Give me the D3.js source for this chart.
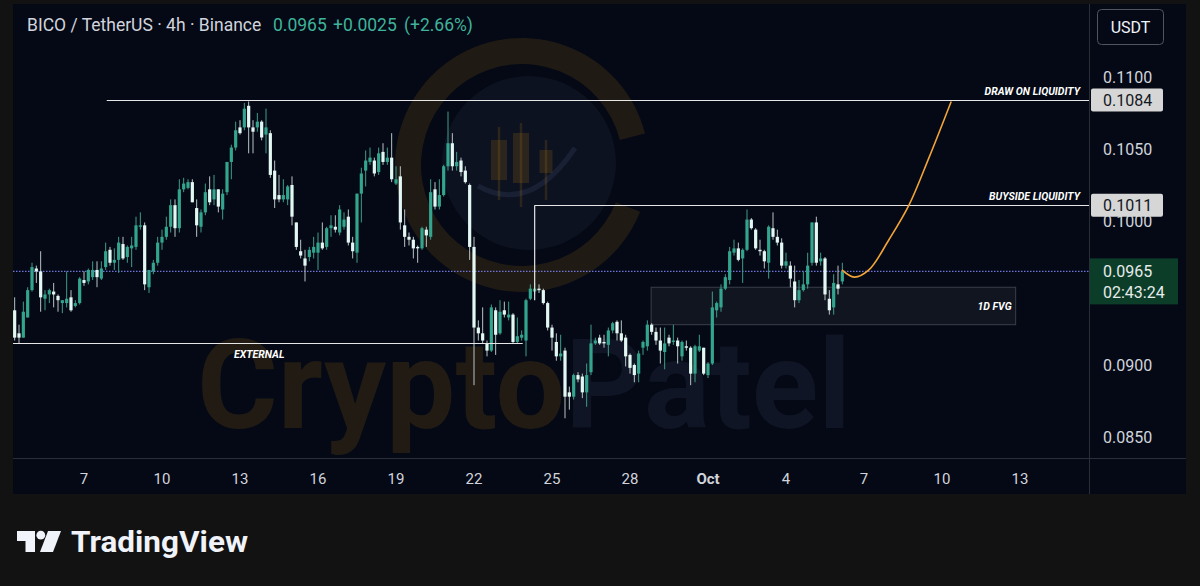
<!DOCTYPE html>
<html><head><meta charset="utf-8">
<script src="https://cdn.jsdelivr.net/npm/d3@7"></script>
<style>
html,body{margin:0;padding:0;background:#121212;}
svg{display:block;font-family:Roboto,"Noto Sans",sans-serif;}
</style></head><body>
<svg id="c" width="1200" height="586"></svg>
<script>
// ---------- DATA ----------
const firstCandle = "2024-09-04T08:00:00Z";   // 4h candles
const open = [
0.0938,0.0922,0.0919,0.0933,0.0952,0.0967,0.0965,0.0946,0.0949,0.0951,
0.0948,0.0943,0.0943,0.0947,0.0941,0.0943,0.0959,0.0958,0.0961,0.0966,
0.0960,0.0968,0.0980,0.0971,0.0973,0.0984,0.0975,0.0981,0.0982,0.0996,
0.0997,0.0954,0.0965,0.0971,0.0985,0.0989,0.0996,0.1011,0.0995,0.1022,
0.1023,0.1027,0.1009,0.0996,0.1006,0.1022,0.1015,0.1022,0.1008,0.1020,
0.1041,0.1051,0.1065,0.1065,0.1080,0.1065,0.1065,0.1069,0.1060,0.1061,
0.1035,0.1018,0.1015,0.1015,0.1025,0.0999,0.0979,0.0974,0.0975,0.0978,
0.0978,0.0985,0.0982,0.0995,0.0996,0.0992,0.0996,0.1003,0.0985,0.0978,
0.1019,0.1035,0.1041,0.1042,0.1034,0.1048,0.1041,0.1044,0.1026,0.1031,
0.0997,0.0989,0.0987,0.0982,0.0981,0.0994,0.0989,0.1022,0.1010,0.1018,
0.1038,0.1054,0.1038,0.1042,0.1035,0.1025,0.0982,0.0926,0.0922,0.0915,
0.0910,0.0938,0.0922,0.0938,0.0933,0.0935,0.0916,0.0919,0.0917,0.0946,
0.0951,0.0953,0.0952,0.0943,0.0926,0.0916,0.0906,0.0910,0.0881,0.0878,
0.0893,0.0892,0.0881,0.0895,0.0915,0.0919,0.0916,0.0914,0.0924,0.0930,
0.0922,0.0919,0.0907,0.0900,0.0894,0.0912,0.0913,0.0928,0.0923,0.0917,
0.0909,0.0919,0.0916,0.0917,0.0906,0.0913,0.0912,0.0894,0.0910,0.0912,
0.0893,0.0901,0.0938,0.0940,0.0953,0.0959,0.0978,0.0981,0.0974,0.0980,
0.1001,0.0994,0.0980,0.0979,0.0971,0.0995,0.0989,0.0985,0.0969,0.0969,
0.0958,0.0945,0.0952,0.0956,0.0971,0.0999,0.0972,0.0974,0.0946,0.0940,
0.0956,0.0958];
const high = [
0.0947,0.0928,0.0944,0.0954,0.0971,0.0969,0.0979,0.0952,0.0953,0.0957,
0.0949,0.0945,0.0965,0.0952,0.0945,0.0961,0.0965,0.0967,0.0972,0.0972,
0.0972,0.0985,0.0982,0.0981,0.0989,0.0989,0.0983,0.0989,0.1003,0.1006,
0.0999,0.0966,0.0973,0.0989,0.0994,0.1003,0.1015,0.1015,0.1029,0.1030,
0.1029,0.1029,0.1015,0.1008,0.1026,0.1031,0.1032,0.1022,0.1022,0.1041,
0.1053,0.1069,0.1070,0.1082,0.1083,0.1070,0.1075,0.1070,0.1078,0.1063,
0.1042,0.1032,0.1029,0.1025,0.1031,0.0999,0.0987,0.0980,0.0982,0.0989,
0.0992,0.0999,0.0996,0.1004,0.1004,0.1011,0.1006,0.1008,0.0989,0.1019,
0.1037,0.1049,0.1051,0.1044,0.1051,0.1054,0.1051,0.1061,0.1038,0.1038,
0.1008,0.0992,0.0989,0.0983,0.0996,0.0996,0.1029,0.1027,0.1029,0.1039,
0.1076,0.1061,0.1048,0.1044,0.1038,0.1026,0.0989,0.0931,0.0940,0.0917,
0.0942,0.0940,0.0945,0.0944,0.0944,0.0936,0.0933,0.0924,0.0946,0.0956,
0.0957,0.0956,0.0953,0.0944,0.0928,0.0922,0.0921,0.0912,0.0885,0.0894,
0.0895,0.0894,0.0901,0.0928,0.0919,0.0921,0.0921,0.0926,0.0930,0.0931,
0.0931,0.0921,0.0908,0.0901,0.0910,0.0917,0.0931,0.0929,0.0926,0.0926,
0.0926,0.0921,0.0928,0.0919,0.0917,0.0917,0.0913,0.0914,0.0921,0.0912,
0.0902,0.0951,0.0944,0.0956,0.0963,0.0982,0.0987,0.0985,0.0981,0.1008,
0.1002,0.0995,0.0987,0.0980,0.0997,0.1006,0.0994,0.0988,0.0978,0.0972,
0.0969,0.0959,0.0965,0.0978,0.0999,0.1003,0.0978,0.0975,0.0952,0.0963,
0.0969,0.0971];
const low = [
0.0917,0.0915,0.0919,0.0933,0.0951,0.0957,0.0937,0.0938,0.0943,0.0940,
0.0937,0.0936,0.0940,0.0937,0.0940,0.0942,0.0955,0.0956,0.0959,0.0954,
0.0959,0.0966,0.0969,0.0966,0.0964,0.0973,0.0971,0.0968,0.0980,0.0994,
0.0952,0.0950,0.0963,0.0969,0.0980,0.0987,0.0992,0.0989,0.0992,0.1020,
0.1022,0.1013,0.0989,0.0992,0.1004,0.1011,0.1011,0.1006,0.1001,0.1018,
0.1029,0.1049,0.1060,0.1063,0.1047,0.1047,0.1062,0.1056,0.1047,0.1030,
0.1009,0.1013,0.1013,0.1011,0.0997,0.0980,0.0974,0.0958,0.0972,0.0974,
0.0966,0.0980,0.0980,0.0989,0.0992,0.0990,0.0994,0.0983,0.0974,0.0971,
0.0999,0.1024,0.1039,0.1031,0.1032,0.1039,0.1039,0.1027,0.1025,0.0994,
0.0982,0.0983,0.0974,0.0971,0.0980,0.0982,0.0987,0.1008,0.1008,0.1017,
0.1035,0.1035,0.1035,0.1031,0.1026,0.0973,0.0886,0.0917,0.0915,0.0906,
0.0909,0.0907,0.0921,0.0933,0.0931,0.0915,0.0915,0.0917,0.0906,0.0945,
0.0949,0.0950,0.0942,0.0924,0.0910,0.0903,0.0903,0.0863,0.0869,0.0876,
0.0888,0.0877,0.0871,0.0893,0.0914,0.0914,0.0912,0.0906,0.0922,0.0917,
0.0916,0.0899,0.0894,0.0888,0.0888,0.0907,0.0910,0.0921,0.0914,0.0901,
0.0897,0.0913,0.0914,0.0901,0.0903,0.0910,0.0886,0.0888,0.0909,0.0893,
0.0891,0.0900,0.0933,0.0937,0.0952,0.0956,0.0976,0.0972,0.0957,0.0979,
0.0994,0.0980,0.0976,0.0967,0.0960,0.0987,0.0983,0.0967,0.0967,0.0954,
0.0940,0.0943,0.0951,0.0953,0.0969,0.0969,0.0969,0.0945,0.0935,0.0935,
0.0949,0.0956];
const close = [
0.0919,0.0919,0.0937,0.0952,0.0968,0.0965,0.0947,0.0949,0.0952,0.0949,
0.0945,0.0945,0.0946,0.0938,0.0943,0.0960,0.0957,0.0966,0.0966,0.0961,
0.0967,0.0979,0.0971,0.0973,0.0985,0.0974,0.0982,0.0983,0.0997,0.0997,
0.0956,0.0966,0.0971,0.0985,0.0989,0.0996,0.1011,0.0995,0.1022,0.1026,
0.1027,0.1013,0.0997,0.1006,0.1020,0.1013,0.1022,0.1010,0.1019,0.1041,
0.1051,0.1063,0.1061,0.1078,0.1065,0.1062,0.1069,0.1058,0.1065,0.1032,
0.1015,0.1015,0.1018,0.1024,0.1003,0.0982,0.0976,0.0969,0.0980,0.0982,
0.0985,0.0981,0.0995,0.0997,0.0994,0.1008,0.1001,0.0985,0.0979,0.1019,
0.1033,0.1042,0.1044,0.1033,0.1047,0.1041,0.1044,0.1029,0.1029,0.0999,
0.0989,0.0987,0.0981,0.0981,0.0995,0.0990,0.1020,0.1010,0.1018,0.1038,
0.1054,0.1038,0.1041,0.1034,0.1027,0.0982,0.0926,0.0922,0.0917,0.0910,
0.0940,0.0921,0.0937,0.0935,0.0935,0.0916,0.0920,0.0921,0.0945,0.0953,
0.0953,0.0952,0.0943,0.0926,0.0919,0.0906,0.0908,0.0878,0.0878,0.0893,
0.0890,0.0881,0.0893,0.0915,0.0917,0.0915,0.0915,0.0924,0.0929,0.0922,
0.0917,0.0906,0.0898,0.0893,0.0908,0.0916,0.0928,0.0923,0.0917,0.0910,
0.0915,0.0915,0.0917,0.0913,0.0916,0.0912,0.0894,0.0913,0.0913,0.0894,
0.0901,0.0940,0.0943,0.0953,0.0961,0.0979,0.0981,0.0973,0.0980,0.1001,
0.0995,0.0981,0.0979,0.0972,0.0996,0.0989,0.0985,0.0969,0.0972,0.0960,
0.0945,0.0952,0.0956,0.0969,0.0999,0.0971,0.0974,0.0949,0.0938,0.0957,
0.0953,0.0965];

const timeTickDates = ["2024-09-07","2024-09-10","2024-09-13","2024-09-16","2024-09-19","2024-09-22","2024-09-25","2024-09-28","2024-10-01","2024-10-04","2024-10-07","2024-10-10","2024-10-13"];
const timeTickLabels = ["7","10","13","16","19","22","25","28","Oct","4","7","10","13"];
// 0.0950 sits under the live-price badge, so the axis does not print it
const priceTicks = [0.0850,0.0900,0.1000,0.1050,0.1100];

const levelNames  = ["DRAW ON LIQUIDITY","BUYSIDE LIQUIDITY","EXTERNAL"];
const levelPrices = [0.1084,0.1011,0.0915];
const levelStart  = ["2024-09-07T21:00:00Z","2024-09-24T08:00:00Z","2024-09-04T04:00:00Z"];
const levelEnd    = [null,null,"2024-09-23T21:00:00Z"];
const buysideDropTo = 0.0945;

const fvgLabel = "1D FVG";
const fvgPrices = [0.0954,0.0928];
const fvgTimes  = ["2024-09-28T19:30:00Z","2024-10-12T20:00:00Z"];

const projTimes  = ["2024-10-06T03:36:00Z","2024-10-06T15:00:00Z","2024-10-07T04:30:00Z","2024-10-07T23:00:00Z","2024-10-08T17:30:00Z","2024-10-09T12:00:00Z","2024-10-10T08:30:00Z"];
const projPrices = [0.0966,0.0961,0.0966,0.0987,0.1011,0.1044,0.1083];

const lastPrice = 0.0965, changeAbs = "+0.0025", changePct = "(+2.66%)", countdown = "02:43:24";

// ---------- LAYOUT ----------
const svg = d3.select("#c");
const P = {l:13, t:4, r:1089, b:458, outerR:1186, outerB:494};
const x = d3.scaleUtc().domain([new Date("2024-09-07T00:00:00Z"), new Date("2024-10-13T00:00:00Z")]).range([84, 1020]);
const y = d3.scaleLinear().domain([0.085, 0.110]).range([437, 77]);

svg.append("rect").attr("width",1200).attr("height",586).attr("fill","#121212");
svg.append("rect").attr("x",P.l).attr("y",P.t).attr("width",P.outerR-P.l).attr("height",P.outerB-P.t).attr("fill","#040915");

svg.append("defs").append("clipPath").attr("id","plot").append("rect")
  .attr("x",P.l).attr("y",P.t).attr("width",P.r-P.l).attr("height",P.b-P.t);
const plot = svg.append("g").attr("clip-path","url(#plot)");

// watermark (logo ring + name)
const wm = plot.append("g");
const ringArc = d3.arc().innerRadius(101).outerRadius(127).startAngle(Math.PI*0.62).endAngle(Math.PI*2.42);
wm.append("path").attr("d",ringArc()).attr("transform","translate(522,165)")
  .attr("fill","#e89a10").attr("fill-opacity",0.12);
wm.append("circle").attr("cx",529).attr("cy",163).attr("r",87).attr("fill","#7f8fbf").attr("fill-opacity",0.07);
[[499,127,200,16,140,180],[521,123,207,16,133,183],[546,140,200,13,150,173]].forEach(b=>{
  wm.append("rect").attr("x",b[0]-b[3]/2).attr("y",b[4]).attr("width",b[3]).attr("height",b[5]-b[4]).attr("fill","#e89a10").attr("fill-opacity",0.14);
  wm.append("line").attr("x1",b[0]).attr("x2",b[0]).attr("y1",b[1]).attr("y2",b[2]).attr("stroke","#e89a10").attr("stroke-opacity",0.14).attr("stroke-width",2.5);
});
wm.append("path").attr("d","M478,186 Q530,215 575,148").attr("fill","none").attr("stroke","#7f8fbf").attr("stroke-opacity",0.12).attr("stroke-width",5);
const wt = wm.append("text").attr("x",197).attr("y",428).attr("font-size",124).attr("font-weight",700)
  .attr("textLength",654).attr("lengthAdjust","spacingAndGlyphs");
wt.append("tspan").text("Crypto").attr("fill","#e89a10").attr("fill-opacity",0.13);
wt.append("tspan").text("Patel").attr("fill","#8090b8").attr("fill-opacity",0.09);

// FVG box
const fx0 = x(new Date(fvgTimes[0])), fx1 = x(new Date(fvgTimes[1]));
plot.append("rect").attr("x",fx0).attr("y",y(fvgPrices[0])).attr("width",fx1-fx0)
  .attr("height",y(fvgPrices[1])-y(fvgPrices[0])).attr("fill","#ffffff").attr("fill-opacity",0.05)
  .attr("stroke","#3a3f4c").attr("stroke-width",1);
plot.append("text").attr("x",fx1-4).attr("y",(y(fvgPrices[0])+y(fvgPrices[1]))/2+4).attr("text-anchor","end")
  .attr("fill","#ffffff").attr("font-size",10.5).attr("font-weight",700).attr("font-style","italic").text(fvgLabel);

// current price dotted line
plot.append("line").attr("x1",P.l).attr("x2",P.r).attr("y1",y(lastPrice)).attr("y2",y(lastPrice))
  .attr("stroke","#7074d8").attr("stroke-width",1.2).attr("stroke-dasharray","1.5,1.5");

// candles
const t0 = new Date(firstCandle);
const idx = d3.range(close.length);
const tOf = i => d3.utcHour.offset(t0, 4*i);
const up = i => close[i] >= open[i];
const cUp = "#33a48d", cDn = "#e3f8f3";
const cg = plot.append("g");
cg.selectAll("line.w").data(idx).join("line").attr("class","w")
  .attr("x1",i=>x(tOf(i))).attr("x2",i=>x(tOf(i)))
  .attr("y1",i=>y(high[i])).attr("y2",i=>y(low[i]))
  .attr("stroke",i=>up(i)?"#3f9d8a":"#b9c4c4").attr("stroke-width",1);
cg.selectAll("rect.b").data(idx).join("rect").attr("class","b")
  .attr("x",i=>x(tOf(i))-1.6).attr("width",3.2)
  .attr("y",i=>y(Math.max(open[i],close[i])))
  .attr("height",i=>Math.max(1,Math.abs(y(open[i])-y(close[i]))))
  .attr("fill",i=>up(i)?cUp:cDn);

// levels
levelNames.forEach((n,k)=>{
  const xa = x(new Date(levelStart[k]));
  const xb = levelEnd[k] ? x(new Date(levelEnd[k])) : P.r;
  const yy = Math.round(y(levelPrices[k]))+0.5;
  plot.append("line").attr("x1",xa).attr("x2",xb).attr("y1",yy).attr("y2",yy)
    .attr("stroke","#e6e6e6").attr("stroke-width",1.2);
  if (k<2) {
    plot.append("text").attr("x",1080).attr("y",yy-6).attr("text-anchor","end")
      .attr("fill","#ffffff").attr("font-size",10.5).attr("font-weight",700).attr("font-style","italic").text(n);
  } else {
    plot.append("text").attr("x",234).attr("y",yy+14).attr("fill","#ffffff")
      .attr("font-size",10.5).attr("font-weight",700).attr("font-style","italic").text(n);
  }
});
{
  const xa = x(new Date(levelStart[1]));
  plot.append("line").attr("x1",xa).attr("x2",xa).attr("y1",y(levelPrices[1])).attr("y2",y(buysideDropTo))
    .attr("stroke","#e6e6e6").attr("stroke-width",1.2);
}

// projection curve
const pts = projTimes.map((t,i)=>[x(new Date(t)), y(projPrices[i])]);
svg.append("path").attr("d", d3.line().curve(d3.curveCatmullRom.alpha(0.5))(pts))
  .attr("fill","none").attr("stroke","#f2a436").attr("stroke-width",1.6);

// separators
svg.append("line").attr("x1",P.l).attr("x2",P.outerR).attr("y1",P.b+0.5).attr("y2",P.b+0.5).attr("stroke","#2a2e39");
svg.append("line").attr("x1",P.r+0.5).attr("x2",P.r+0.5).attr("y1",P.t).attr("y2",P.outerB).attr("stroke","#2a2e39");

// price axis labels
svg.append("g").selectAll("text").data(priceTicks).join("text")
  .attr("x",1103).attr("y",d=>y(d)+6).attr("fill","#d1d4dc").attr("font-size",16)
  .text(d=>d.toFixed(4));

// level badges
[levelPrices[0],levelPrices[1]].forEach(p=>{
  const yy = y(p);
  svg.append("rect").attr("x",1091).attr("y",yy-11.5).attr("width",72).attr("height",23).attr("rx",2).attr("fill","#d6d6d6");
  svg.append("text").attr("x",1103).attr("y",yy+6).attr("fill","#131722").attr("font-size",16).text(p.toFixed(4));
});
// last price badge
{
  const yy = y(lastPrice);
  svg.append("rect").attr("x",1090).attr("y",yy-13).attr("width",88).attr("height",46).attr("fill","#0c3d29");
  svg.append("text").attr("x",1103).attr("y",yy+6).attr("fill","#e6ece9").attr("font-size",16).text(lastPrice.toFixed(4));
  svg.append("text").attr("x",1103).attr("y",yy+27).attr("fill","#e6ece9").attr("font-size",16).text(countdown);
}

// USDT button
svg.append("rect").attr("x",1097.5).attr("y",9.5).attr("width",66).attr("height",35).attr("rx",4)
  .attr("fill","none").attr("stroke","#50545f");
svg.append("text").attr("x",1130.5).attr("y",33).attr("text-anchor","middle").attr("fill","#f0f3fa").attr("font-size",16).text("USDT");

// time axis labels
svg.append("g").selectAll("text").data(timeTickDates).join("text")
  .attr("x",d=>x(new Date(d+"T00:00:00Z"))).attr("y",484).attr("text-anchor","middle")
  .attr("fill","#d1d4dc").attr("font-size",15)
  .attr("font-weight",(d,i)=>timeTickLabels[i]==="Oct"?700:400)
  .text((d,i)=>timeTickLabels[i]);

// header
const h = svg.append("g").attr("font-size",17.5);
h.append("text").attr("x",27).attr("y",31).attr("fill","#d1d4dc").text("BICO / TetherUS · 4h · Binance");
h.append("text").attr("x",273).attr("y",31).attr("fill","#3fb39b").text(lastPrice.toFixed(4));
h.append("text").attr("x",333).attr("y",31).attr("fill","#3fb39b").text(changeAbs);
h.append("text").attr("x",404).attr("y",31).attr("fill","#3fb39b").text(changePct);

// TradingView logo
const lg = svg.append("g").attr("fill","#f0f3fa");
lg.append("path").attr("d","M17,531 H35 V552 H25.5 V541 H17 Z");
lg.append("circle").attr("cx",40.8).attr("cy",535.2).attr("r",4.4);
lg.append("path").attr("d","M48,531 H61 L53,552 H40 Z");
lg.append("text").attr("x",71).attr("y",552).attr("font-size",30).attr("font-weight",700)
  .attr("textLength",177).attr("lengthAdjust","spacingAndGlyphs").text("TradingView");
</script>
</body></html>
